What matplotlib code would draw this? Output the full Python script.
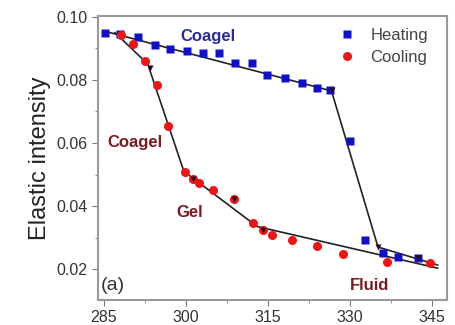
import numpy as np
import matplotlib.pyplot as plt
from matplotlib.ticker import MultipleLocator

plt.rcParams['font.family'] = ['Liberation Sans', 'DejaVu Sans']

# Heating run (blue squares)
heat_T = [285.2, 288.0, 291.2, 294.3, 297.1, 300.2, 303.1, 306.0, 309.0, 312.1,
          314.8, 318.1, 321.2, 323.9, 326.3, 330.0, 332.7, 336.0, 338.7, 342.4]
heat_I = [0.0949, 0.0945, 0.0937, 0.0911, 0.0898, 0.0892, 0.0886, 0.0886, 0.0854, 0.0854,
          0.0816, 0.0806, 0.0790, 0.0775, 0.0768, 0.0606, 0.0292, 0.0251, 0.0238, 0.0235]

# Cooling run (red circles)
cool_T = [288.1, 290.3, 292.5, 294.7, 296.7, 299.8, 301.3, 302.4, 304.9, 308.8,
          312.2, 314.1, 315.7, 319.4, 323.9, 328.7, 336.7, 344.6]
cool_I = [0.0943, 0.0914, 0.0860, 0.0784, 0.0654, 0.0508, 0.0486, 0.0473, 0.0451, 0.0422,
          0.0346, 0.0324, 0.0308, 0.0292, 0.0273, 0.0248, 0.0222, 0.0219]

# piecewise linear fits (break points)
heat_fit_T = [285.0, 326.6, 335.1, 346.0]
heat_fit_I = [0.0955, 0.0765, 0.0270, 0.0213]
cool_fit_T = [287.0, 293.0, 299.6, 313.0, 346.0]
cool_fit_I = [0.0950, 0.0850, 0.0510, 0.0335, 0.0203]

# dark markers sitting on the fits
node_T = [293.4, 301.3, 308.8, 314.1, 326.6, 335.1, 342.4]
node_I = [0.0838, 0.0486, 0.0422, 0.0324, 0.0768, 0.0270, 0.0235]

fig = plt.figure(figsize=(4.56, 3.25), dpi=100)
ax = fig.add_axes([0.215, 0.077, 0.765, 0.874])

ax.plot(heat_fit_T, heat_fit_I, color='#222222', lw=1.2, zorder=2)
ax.plot(cool_fit_T, cool_fit_I, color='#222222', lw=1.2, zorder=2)

ax.plot(heat_T, heat_I, 's', color='#1010c8', ms=5.5, mec='none', label='Heating', zorder=3)
ax.plot(cool_T, cool_I, 'o', color='#ee1515', ms=6.5, mec='none', label='Cooling', zorder=3)
ax.plot(node_T, node_I, 'v', color='#2a0a14', ms=4.5, mec='none', zorder=4)

ax.text(304, 0.0937, 'Coagel', color='#2a2a9a', fontsize=12, fontweight='bold', ha='center', va='center')
ax.text(290.7, 0.0600, 'Coagel', color='#7a1a22', fontsize=12, fontweight='bold', ha='center', va='center')
ax.text(300.7, 0.0380, 'Gel', color='#7a1a22', fontsize=12, fontweight='bold', ha='center', va='center')
ax.text(333.6, 0.0149, 'Fluid', color='#7a1a22', fontsize=12, fontweight='bold', ha='center', va='center')
ax.text(286.6, 0.0149, '(a)', color='#333333', fontsize=14, ha='center', va='center')

ax.set_xlim(283.9, 347.7)
ax.set_ylim(0.0102, 0.1003)
ax.set_xticks([285, 300, 315, 330, 345])
ax.set_yticks([0.02, 0.04, 0.06, 0.08, 0.10])
ax.set_yticklabels(['0.02', '0.04', '0.06', '0.08', '0.10'])
ax.xaxis.set_minor_locator(MultipleLocator(7.5))
ax.yaxis.set_minor_locator(MultipleLocator(0.01))
ax.tick_params(which='major', length=4, color='#777777', labelsize=11.5, labelcolor='#333333')
ax.tick_params(which='minor', length=2, color='#777777')
for s in ax.spines.values():
    s.set_color('#999999')
    s.set_linewidth(1.5)

ax.set_ylabel('Elastic intensity', fontsize=17, color='#222222', labelpad=4)

leg = ax.legend(loc='upper right', bbox_to_anchor=(0.98, 1.0), frameon=False, fontsize=12,
                handletextpad=0.9, borderaxespad=0.3, labelspacing=0.45, handlelength=1.0)
for t in leg.get_texts():
    t.set_color('#444444')

fig.savefig('out.png', dpi=100)
